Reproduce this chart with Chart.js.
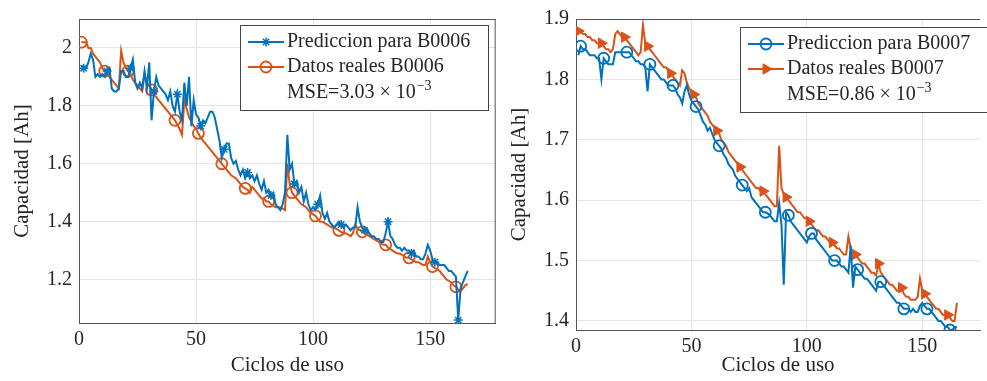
<!DOCTYPE html>
<html>
<head>
<meta charset="utf-8">
<script src="https://cdn.jsdelivr.net/npm/chart.js@4.4.1/dist/chart.umd.min.js"></script>
<style>
  html, body { margin: 0; padding: 0; background: #fff; }
  body { width: 987px; height: 381px; position: relative; overflow: hidden; }
  .panel { position: absolute; top: 0; height: 381px; }
  #left { left: 0; width: 503px; }
  #right { left: 497px; width: 490px; }
</style>
</head>
<body>
<div class="panel" id="left"><canvas id="b6"></canvas></div>
<div class="panel" id="right"><canvas id="b7"></canvas></div>
<script>
Chart.defaults.font.family = "'Liberation Serif', 'Times New Roman', serif";
Chart.defaults.color = "#262626";
Chart.defaults.animation = false;

var blue = "#0072BD";
var orange = "#D95319";

var xTicks = [0, 50, 100, 150];
var yTicksB6 = [1.2, 1.4, 1.6, 1.8, 2];
var yTicksB7 = [1.4, 1.5, 1.6, 1.7, 1.8, 1.9];

// capacidad por ciclo, empezando en el ciclo 1
var realB6 = [
  2.02, 2.02, 2.02, 2.00, 2.00, 1.98, 1.97, 1.96, 1.95, 1.93,
  1.92, 1.91, 1.90, 1.89, 1.88, 1.87, 1.86, 1.99, 1.95, 1.93,
  1.92, 1.91, 1.89, 1.88, 1.87, 1.86, 1.85, 1.91, 1.88, 1.87,
  1.855, 1.84, 1.83, 1.82, 1.81, 1.80, 1.79, 1.78, 1.77, 1.76,
  1.75, 1.735, 1.72, 1.70, 1.82, 1.79, 1.76, 1.745, 1.73, 1.72,
  1.705, 1.69, 1.68, 1.67, 1.66, 1.65, 1.64, 1.63, 1.62, 1.61,
  1.60, 1.59, 1.58, 1.57, 1.56, 1.555, 1.55, 1.54, 1.53, 1.52,
  1.515, 1.51, 1.50, 1.52, 1.51, 1.50, 1.49, 1.48, 1.48, 1.47,
  1.47, 1.46, 1.455, 1.45, 1.45, 1.45, 1.445, 1.44, 1.60, 1.53,
  1.50, 1.49, 1.48, 1.47, 1.46, 1.455, 1.45, 1.44, 1.43, 1.425,
  1.42, 1.41, 1.40, 1.40, 1.395, 1.39, 1.385, 1.38, 1.38, 1.375,
  1.37, 1.365, 1.36, 1.36, 1.355, 1.35, 1.36, 1.39, 1.375, 1.37,
  1.365, 1.36, 1.355, 1.35, 1.345, 1.34, 1.335, 1.33, 1.325, 1.32,
  1.32, 1.31, 1.305, 1.30, 1.295, 1.29, 1.29, 1.285, 1.28, 1.275,
  1.275, 1.27, 1.265, 1.26, 1.26, 1.255, 1.25, 1.25, 1.28, 1.26,
  1.245, 1.24, 1.235, 1.23, 1.22, 1.21, 1.20, 1.195, 1.19, 1.18,
  1.175, 1.165, 1.16, 1.17, 1.18, 1.185
];
var predB6 = [
  1.94, 1.93, 1.93, 1.95, 1.98, 1.96, 1.90, 1.91, 1.90, 1.91,
  1.90, 1.92, 1.93, 1.86, 1.85, 1.85, 1.86, 1.92, 1.92, 1.90,
  1.90, 1.93, 1.96, 1.88, 1.86, 1.88, 1.86, 1.92, 1.86, 1.95,
  1.75, 1.85, 1.90, 1.87, 1.86, 1.85, 1.84, 1.82, 1.85, 1.80,
  1.78, 1.84, 1.78, 1.75, 1.88, 1.80, 1.90, 1.73, 1.82, 1.77,
  1.76, 1.73, 1.75, 1.74, 1.76, 1.78, 1.78, 1.76, 1.72, 1.68,
  1.62, 1.65, 1.67, 1.67, 1.62, 1.60, 1.61, 1.58, 1.56, 1.58,
  1.55, 1.57, 1.55, 1.56, 1.54, 1.56, 1.53, 1.51, 1.54, 1.50,
  1.51, 1.49, 1.50, 1.46, 1.45, 1.44, 1.46, 1.50, 1.70, 1.58,
  1.60, 1.53, 1.54, 1.50, 1.52, 1.47, 1.50, 1.46, 1.44, 1.45,
  1.44, 1.46, 1.49, 1.43, 1.41, 1.43, 1.40, 1.39, 1.38, 1.39,
  1.40, 1.39, 1.38, 1.39, 1.38, 1.37, 1.38, 1.38, 1.45, 1.40,
  1.38, 1.37, 1.37, 1.36, 1.35, 1.35, 1.34, 1.34, 1.33, 1.33,
  1.36, 1.40, 1.35, 1.34, 1.32, 1.31, 1.31, 1.30, 1.31, 1.30,
  1.30, 1.29, 1.30, 1.28, 1.28, 1.27, 1.27, 1.29, 1.32, 1.30,
  1.27, 1.26, 1.26, 1.25, 1.25, 1.25, 1.24, 1.23, 1.23, 1.22,
  1.21, 1.06, 1.17, 1.19, 1.21, 1.23
];
var realB7 = [
  1.88, 1.88, 1.875, 1.875, 1.87, 1.87, 1.865, 1.865, 1.86, 1.86,
  1.86, 1.855, 1.85, 1.85, 1.845, 1.85, 1.875, 1.88, 1.875, 1.87,
  1.87, 1.865, 1.86, 1.855, 1.85, 1.845, 1.84, 1.845, 1.89, 1.86,
  1.855, 1.85, 1.845, 1.84, 1.835, 1.83, 1.825, 1.82, 1.82, 1.815,
  1.81, 1.805, 1.80, 1.795, 1.79, 1.815, 1.81, 1.795, 1.785, 1.78,
  1.775, 1.77, 1.76, 1.755, 1.75, 1.745, 1.74, 1.73, 1.725, 1.72,
  1.715, 1.71, 1.70, 1.695, 1.69, 1.68, 1.675, 1.67, 1.665, 1.66,
  1.655, 1.65, 1.645, 1.64, 1.635, 1.63, 1.625, 1.62, 1.62, 1.615,
  1.615, 1.61, 1.605, 1.60, 1.595, 1.59, 1.59, 1.69, 1.62, 1.61,
  1.605, 1.60, 1.595, 1.59, 1.585, 1.58, 1.58, 1.575, 1.57, 1.57,
  1.565, 1.56, 1.555, 1.55, 1.55, 1.545, 1.54, 1.54, 1.535, 1.53,
  1.53, 1.525, 1.52, 1.52, 1.515, 1.51, 1.51, 1.54, 1.52, 1.515,
  1.51, 1.505, 1.50, 1.495, 1.495, 1.49, 1.485, 1.48, 1.48, 1.475,
  1.495, 1.48, 1.475, 1.47, 1.465, 1.46, 1.46, 1.455, 1.45, 1.45,
  1.455, 1.445, 1.44, 1.44, 1.435, 1.435, 1.435, 1.44, 1.47, 1.45,
  1.445, 1.44, 1.435, 1.43, 1.425, 1.42, 1.42, 1.415, 1.41, 1.41,
  1.41, 1.405, 1.40, 1.40, 1.43
];
var predB7 = [
  1.84, 1.855, 1.85, 1.85, 1.845, 1.84, 1.84, 1.84, 1.835, 1.835,
  1.80, 1.835, 1.83, 1.825, 1.825, 1.825, 1.845, 1.845, 1.845, 1.845,
  1.845, 1.845, 1.845, 1.84, 1.835, 1.83, 1.83, 1.825, 1.825, 1.82,
  1.78, 1.825, 1.82, 1.815, 1.81, 1.805, 1.80, 1.80, 1.795, 1.79,
  1.79, 1.79, 1.785, 1.775, 1.77, 1.76, 1.78, 1.79, 1.775, 1.765,
  1.76, 1.755, 1.75, 1.74, 1.73, 1.725, 1.715, 1.72, 1.71, 1.70,
  1.695, 1.69, 1.685, 1.675, 1.67, 1.66, 1.655, 1.65, 1.64, 1.635,
  1.63, 1.625, 1.62, 1.615, 1.62, 1.605, 1.60, 1.595, 1.59, 1.585,
  1.58, 1.58, 1.578, 1.575, 1.57, 1.565, 1.565, 1.595, 1.56, 1.46,
  1.58, 1.575, 1.565, 1.56, 1.555, 1.55, 1.545, 1.54, 1.535, 1.53,
  1.54, 1.545, 1.545, 1.535, 1.53, 1.525, 1.52, 1.515, 1.51, 1.505,
  1.50, 1.50, 1.50, 1.495, 1.49, 1.49, 1.485, 1.48, 1.525, 1.455,
  1.49, 1.485, 1.48, 1.475, 1.47, 1.47, 1.465, 1.46, 1.455, 1.45,
  1.465, 1.465, 1.46, 1.455, 1.45, 1.445, 1.44, 1.435, 1.43, 1.43,
  1.425, 1.42, 1.42, 1.42, 1.415, 1.42, 1.415, 1.415, 1.425, 1.43,
  1.425, 1.42, 1.42, 1.415, 1.41, 1.405, 1.40, 1.40, 1.395, 1.39,
  1.39, 1.385, 1.385, 1.39, 1.39
];

function points(values) {
  return values.map(function (v, i) { return { x: i + 1, y: v }; });
}

// a marker every 10 cycles, like MarkerIndices in matlab
function markerEvery(offset, r) {
  return function (ctx) {
    var i = ctx.dataIndex - offset;
    return i >= 0 && i % 10 === 0 ? r : 0;
  };
}

var boxLegend = {
  id: "boxLegend",
  beforeDatasetsDraw: function (chart, args, opts) {
    var a = chart.chartArea, ctx = chart.ctx;
    ctx.save();
    ctx.strokeStyle = "#555";
    ctx.lineWidth = 1;
    ctx.beginPath();
    ctx.moveTo(a.left, a.top + 0.5);
    ctx.lineTo(a.right, a.top + 0.5);
    if (!opts.noRight) {
      ctx.moveTo(a.right - 0.5, a.top);
      ctx.lineTo(a.right - 0.5, a.bottom);
    }
    ctx.stroke();
    ctx.restore();
  },
  afterDraw: function (chart, args, opts) {
    var a = chart.chartArea, ctx = chart.ctx;
    var x0 = opts.right != null ? a.right - opts.right - opts.width : a.left + opts.left;
    x0 = Math.round(x0);
    var y0 = Math.round(a.top + opts.top);
    ctx.save();
    ctx.fillStyle = "#fff";
    ctx.fillRect(x0, y0, opts.width, opts.height);
    ctx.strokeStyle = "#444";
    ctx.lineWidth = 1;
    ctx.strokeRect(x0 + 0.5, y0 + 0.5, opts.width, opts.height);
    ctx.font = "20px 'Liberation Serif'";
    ctx.textBaseline = "middle";
    var rows = [17, 42];
    chart.data.datasets.forEach(function (ds, i) {
      var y = y0 + rows[i];
      ctx.strokeStyle = ds.borderColor;
      ctx.lineWidth = 2;
      ctx.beginPath();
      ctx.moveTo(x0 + 8, y);
      ctx.lineTo(x0 + 44, y);
      ctx.stroke();
      ctx.fillStyle = ds.pointBackgroundColor;
      ctx.lineWidth = ds.pointBorderWidth;
      Chart.helpers.drawPoint(ctx, {
        pointStyle: ds.pointStyle,
        rotation: ds.pointRotation || 0,
        radius: ds.legendRadius,
        borderWidth: ds.pointBorderWidth
      }, x0 + 26, y);
      ctx.fillStyle = "#262626";
      ctx.fillText(ds.label, x0 + 47, y);
    });
    var y = y0 + 68;
    var base = "MSE=" + opts.mse + " \u00d7 10";
    ctx.fillText(base, x0 + 47, y);
    var w = ctx.measureText(base).width;
    ctx.font = "14px 'Liberation Serif'";
    ctx.fillText("\u22123", x0 + 48 + w, y - 7);
    ctx.restore();
  }
};

function axes(xMax, yMin, yMax, yTicks, xHeight) {
  return {
    x: {
      type: "linear",
      min: 0,
      max: xMax,
      afterBuildTicks: function (s) { s.ticks = xTicks.map(function (v) { return { value: v }; }); },
      grid: { color: "#e4e4e4", drawTicks: false },
      border: { color: "#555" },
      ticks: { font: { size: 20 }, padding: 5, maxRotation: 0, callback: function (v) { return String(v); } },
      title: { display: true, text: "Ciclos de uso", font: { size: 21 }, padding: { top: 0, bottom: 3 } },
      afterFit: function (s) { s.height = xHeight; }
    },
    y: {
      min: yMin,
      max: yMax,
      afterBuildTicks: function (s) { s.ticks = yTicks.map(function (v) { return { value: v }; }); },
      grid: { color: "#e4e4e4", drawTicks: false },
      border: { color: "#555" },
      ticks: { font: { size: 20 }, padding: 7, callback: function (v) { return String(v); } },
      title: { display: true, text: "Capacidad [Ah]", font: { size: 21 }, padding: { top: 10, bottom: 0 } },
      afterFit: function (s) { s.width = 79; }
    }
  };
}

function make_chart(id, datasets, scales, padding, legendOpts) {
  var canvas = document.getElementById(id);
  if (canvas.chart) {
    canvas.chart.destroy();
  }
  canvas.chart = new Chart(canvas.getContext("2d"), {
    type: "line",
    data: { datasets: datasets },
    options: {
      responsive: true,
      maintainAspectRatio: false,
      layout: { padding: padding },
      elements: { line: { tension: 0 } },
      plugins: { legend: { display: false }, tooltip: { enabled: false }, boxLegend: legendOpts },
      scales: scales
    },
    plugins: [boxLegend]
  });
}

make_chart("b6", [
  {
    label: "Prediccion para B0006",
    data: points(predB6),
    borderColor: blue,
    borderWidth: 2,
    pointStyle: "star",
    pointRadius: markerEvery(1, 4.5),
    legendRadius: 4.5,
    pointBorderColor: blue,
    pointBackgroundColor: blue,
    pointBorderWidth: 1.5
  },
  {
    label: "Datos reales B0006",
    data: points(realB6),
    borderColor: orange,
    borderWidth: 2,
    pointStyle: "circle",
    pointRadius: markerEvery(0, 5.5),
    legendRadius: 5.5,
    pointBorderColor: orange,
    pointBackgroundColor: "rgba(0,0,0,0)",
    pointBorderWidth: 1.8
  }
], axes(178, 1.05, 2.1, yTicksB6, 58), { top: 8, right: 4, left: 0, bottom: 0 },
  { right: 8, top: 6, width: 248, height: 85, mse: "3.03" });

make_chart("b7", [
  {
    label: "Prediccion para B0007",
    data: points(predB7),
    borderColor: blue,
    borderWidth: 2,
    pointStyle: "circle",
    pointRadius: markerEvery(1, 5.5),
    legendRadius: 5.5,
    pointBorderColor: blue,
    pointBackgroundColor: "rgba(0,0,0,0)",
    pointBorderWidth: 1.8
  },
  {
    label: "Datos reales B0007",
    data: points(realB7),
    borderColor: orange,
    borderWidth: 2,
    pointStyle: "triangle",
    pointRotation: 90,
    pointRadius: markerEvery(0, 6),
    legendRadius: 6,
    pointBorderColor: orange,
    pointBackgroundColor: orange,
    pointBorderWidth: 1
  }
], axes(175, 1.385, 1.9, yTicksB7, 51), { top: 14, right: 0, left: 0, bottom: 0 },
  { left: 164, top: 8, width: 260, height: 85, mse: "0.86", noRight: true });
</script>
</body>
</html>
